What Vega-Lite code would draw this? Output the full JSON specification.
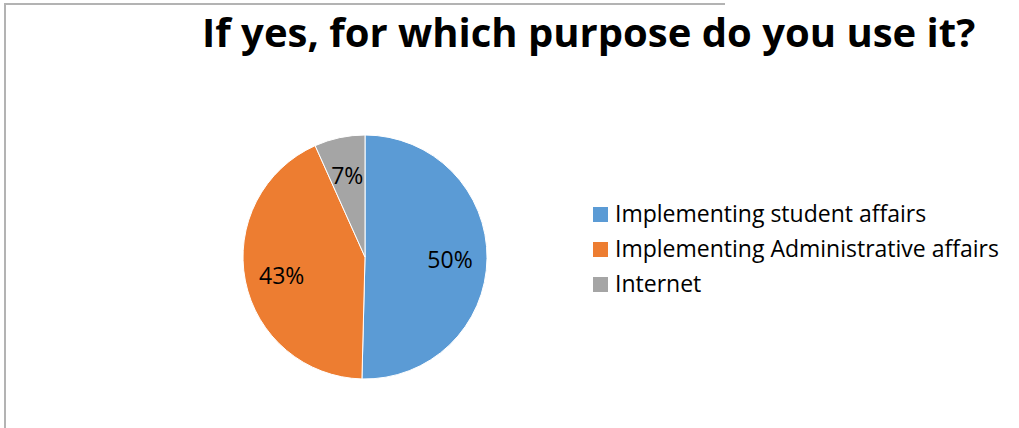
{
  "$schema": "https://vega.github.io/schema/vega-lite/v6.json",
  "width": 720,
  "height": 506,
  "autosize": {"type": "none"},
  "padding": {"left": 5, "top": 4, "right": 294, "bottom": 0},
  "background": "white",
  "view": {"stroke": "#b3b3b3", "strokeWidth": 2, "strokeDash": [720, 1226, 506, 1000]},
  "title": {
    "text": "If yes, for which purpose do you use it?",
    "anchor": "start",
    "frame": "group",
    "orient": "top",
    "baseline": "alphabetic",
    "offset": 0,
    "dx": 197,
    "dy": 83,
    "font": "Open Sans",
    "fontWeight": "bold",
    "fontSize": 40,
    "color": "black"
  },
  "data": {
    "values": [
      {"purpose": "Implementing student affairs", "share": 0.504, "rank": 1},
      {"purpose": "Implementing Administrative affairs", "share": 0.429, "rank": 2},
      {"purpose": "Internet", "share": 0.067, "rank": 3}
    ]
  },
  "encoding": {
    "theta": {"field": "share", "type": "quantitative", "stack": true},
    "order": {"field": "rank", "type": "quantitative"}
  },
  "layer": [
    {
      "mark": {"type": "arc", "outerRadius": 122, "stroke": "white", "strokeWidth": 1},
      "encoding": {
        "color": {
          "field": "purpose",
          "type": "nominal",
          "sort": null,
          "scale": {
            "domain": ["Implementing student affairs", "Implementing Administrative affairs", "Internet"],
            "range": ["#5B9BD5", "#ED7D31", "#A5A5A5"]
          },
          "legend": {
            "title": null,
            "orient": "none",
            "legendX": 584,
            "legendY": 199,
            "symbolType": "square",
            "symbolSize": 225,
            "symbolStrokeWidth": 0,
            "labelFont": "Open Sans",
            "labelFontSize": 23,
            "labelColor": "black",
            "labelOffset": 3,
            "labelLimit": 500,
            "rowPadding": 11,
            "padding": 0
          }
        }
      }
    },
    {
      "mark": {"type": "text", "radius": 85, "dy": 3, "font": "Open Sans", "fontSize": 23, "color": "black"},
      "encoding": {
        "text": {"field": "share", "type": "quantitative", "format": ".0%"}
      }
    }
  ]
}
